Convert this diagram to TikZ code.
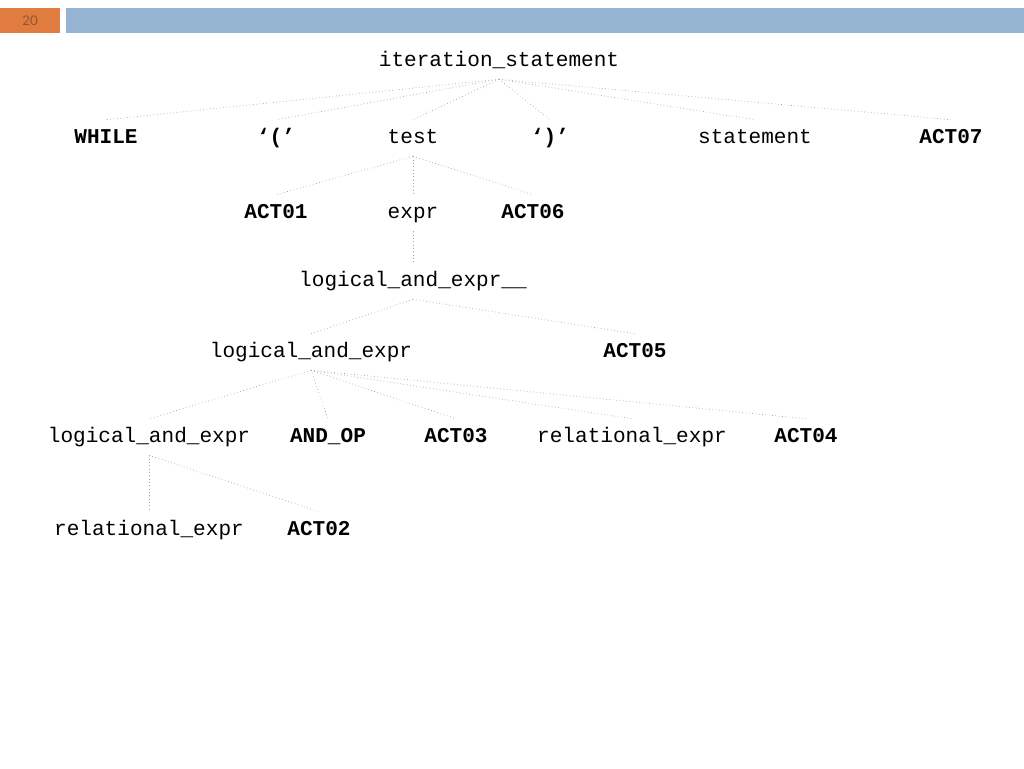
\documentclass[tikz,border=0pt]{standalone}
\usepackage{fontspec}
\setmonofont{Liberation Mono}
\newfontfamily\slidefont{Lato}
\usepackage{tikz}
\usetikzlibrary{shapes,arrows}

\definecolor{barorange}{RGB}{224,124,64}
\definecolor{barblue}{RGB}{148,180,209}
\definecolor{numcolor}{RGB}{150,84,48}
\definecolor{edgegray}{RGB}{160,160,160}

\tikzset{
  sym/.style={font=\ttfamily\fontsize{15.8}{18}\selectfont, inner sep=0pt,
    minimum height=27pt, text height=11pt, text depth=3pt},
  tok/.style={sym, font=\ttfamily\bfseries\fontsize{15.8}{18}\selectfont},
  branch/.style={draw=edgegray, line width=0.5pt, dotted}
}

\begin{document}
\begin{tikzpicture}[x=0.75pt,y=-0.75pt]
    \useasboundingbox (0,0) rectangle (1024,768);
    % slide header
    \fill[barorange] (0,8) rectangle (60,33);
    \fill[barblue] (66,8) rectangle (1024,33);
    \node[font=\slidefont\fontsize{10}{11}\selectfont, text=numcolor] (page) at (30,20.5) {20};

    % level 1
    \node[sym] (iter) at (499,61) {iteration\_statement};
    \node[tok] (while) at (106,138) {WHILE};
    \node[tok] (lp) at (276,138) {‘(’};
    \node[sym] (test) at (413,138) {test};
    \node[tok] (rp) at (550,138) {‘)’};
    \node[sym] (stmt) at (755,138) {statement};
    \node[tok] (act07) at (951,138) {ACT07};
    \foreach \c in {while,lp,test,rp,stmt,act07} \draw[branch] (iter.south) -- (\c.north);

    % test
    \node[tok] (act01) at (276,213) {ACT01};
    \node[sym] (expr) at (413,213) {expr};
    \node[tok] (act06) at (533,213) {ACT06};
    \foreach \c in {act01,expr,act06} \draw[branch] (test.south) -- (\c.north);

    % expr
    \node[sym] (land_) at (413,281) {logical\_and\_expr\_\_};
    \draw[branch] (expr.south) -- (land_.north);

    \node[sym] (land) at (311,352) {logical\_and\_expr};
    \node[tok] (act05) at (635,352) {ACT05};
    \foreach \c in {land,act05} \draw[branch] (land_.south) -- (\c.north);

    \node[sym] (landl) at (149,437) {logical\_and\_expr};
    \node[tok] (andop) at (328,437) {AND\_OP};
    \node[tok] (act03) at (456,437) {ACT03};
    \node[sym] (relr) at (632,437) {relational\_expr};
    \node[tok] (act04) at (806,437) {ACT04};
    \foreach \c in {landl,andop,act03,relr,act04} \draw[branch] (land.south) -- (\c.north);

    \node[sym] (rell) at (149,530) {relational\_expr};
    \node[tok] (act02) at (319,530) {ACT02};
    \foreach \c in {rell,act02} \draw[branch] (landl.south) -- (\c.north);
  \end{tikzpicture}
\end{document}
